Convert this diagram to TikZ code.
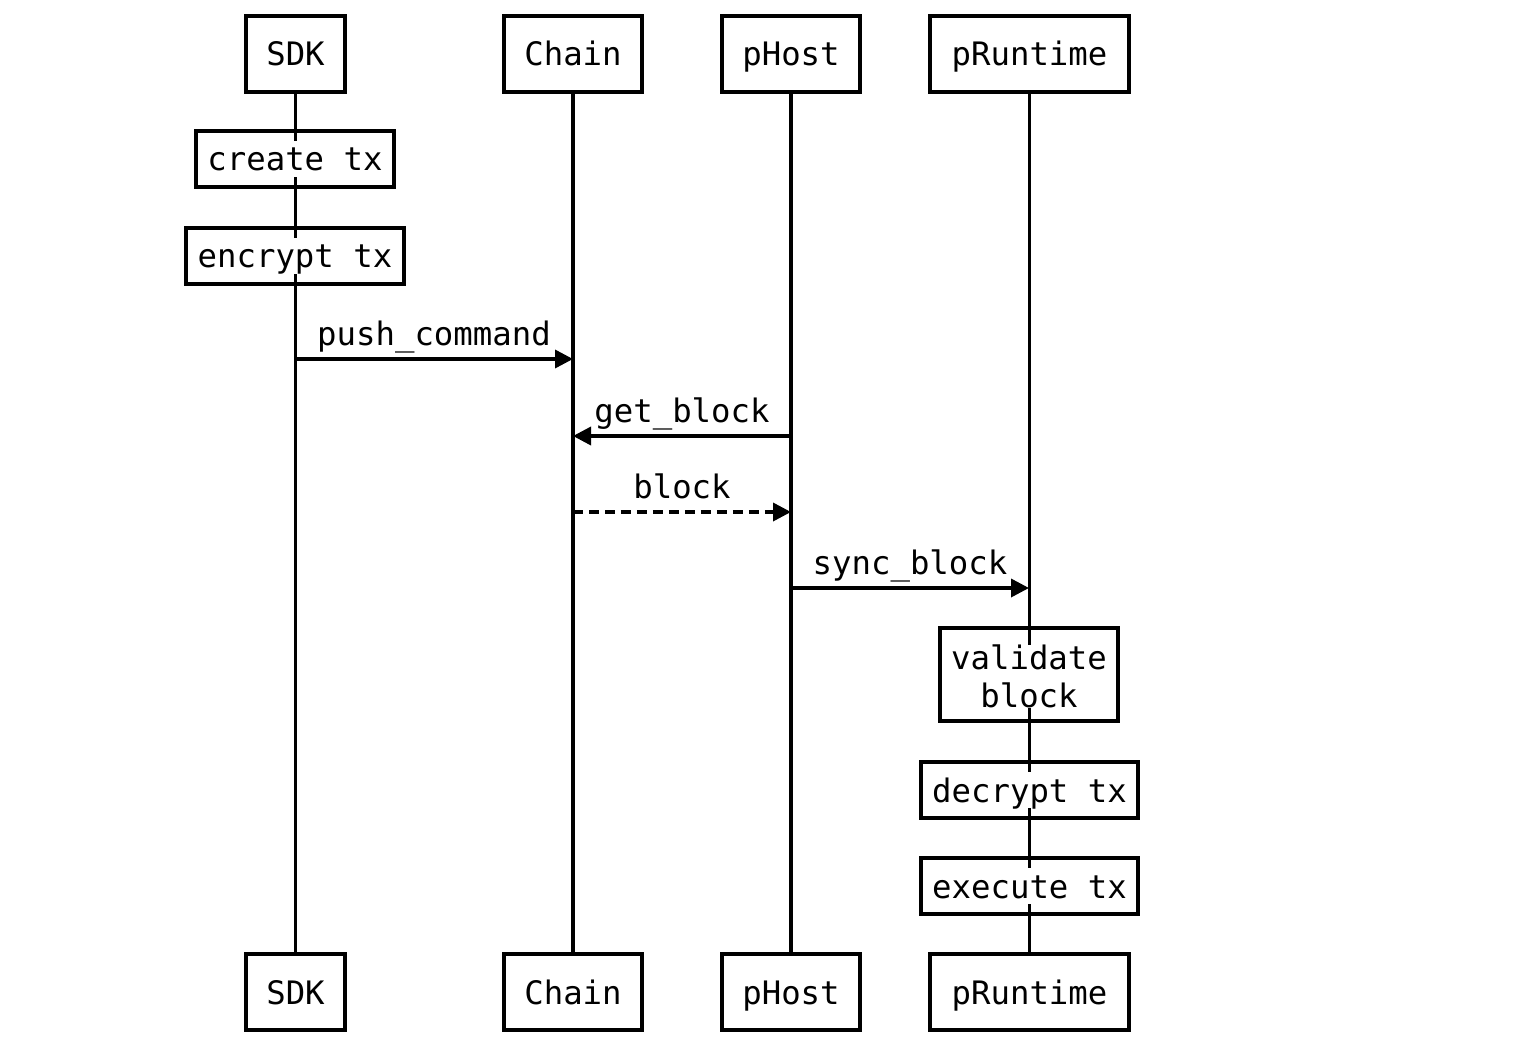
\documentclass[tikz,border=0pt]{standalone}
\usepackage{fontspec}
\setmonofont{DejaVu Sans Mono}
\usetikzlibrary{arrows.meta}
\pgfdeclarelayer{background}
\pgfsetlayers{background,main}
\tikzset{
  every node/.style={font=\ttfamily\fontsize{18.4}{21.6}\selectfont, text height=0.6cm, text depth=0.12cm},
  party/.style={draw, fill=white, line width=0.07cm, inner sep=0pt, minimum height=1.52cm},
  act/.style={draw, line width=0.07cm, inner sep=0pt, minimum height=1.12cm},
  lbl/.style={fill=white, inner sep=0pt},
  life/.style={line width=0.07cm},
  msg/.style={line width=0.07cm, -{Triangle[length=0.36cm,width=0.36cm]}},
}

\begin{document}
\begin{tikzpicture}[x=0.02cm, y=-0.02cm]
        \useasboundingbox (0,0) rectangle (1534,1044);
        % participants, top and bottom
        \node [party, minimum width=1.98cm] (sdkT) at (295.5,54) {SDK};
        \node [party, minimum width=2.76cm] (chainT) at (573,54) {Chain};
        \node [party, minimum width=2.76cm] (phostT) at (791,54) {pHost};
        \node [party, minimum width=3.98cm] (prtT) at (1029.5,54) {pRuntime};
        \node [party, minimum width=1.98cm] (sdkB) at (295.5,992) {SDK};
        \node [party, minimum width=2.76cm] (chainB) at (573,992) {Chain};
        \node [party, minimum width=2.76cm] (phostB) at (791,992) {pHost};
        \node [party, minimum width=3.98cm] (prtB) at (1029.5,992) {pRuntime};
        % lifelines
        \begin{pgfonlayer}{background}
          \draw [life] (sdkT) -- (sdkB);
          \draw [life] (chainT) -- (chainB);
          \draw [life] (phostT) -- (phostB);
          \draw [life] (prtT) -- (prtB);
        \end{pgfonlayer}
        % actions
        \node [act, minimum width=3.96cm, label={[lbl]center:create tx}] (create) at (295,159) {};
        \node [act, minimum width=4.36cm, label={[lbl]center:encrypt tx}] (encrypt) at (295,256) {};
        \node [act, minimum width=3.56cm, minimum height=1.86cm, label={[lbl, align=center, text height={}, text depth={}, yshift=-0.04cm]center:validate\\block}] (validate) at (1029,674.5) {};
        \node [act, minimum width=4.34cm, label={[lbl]center:decrypt tx}] (decrypt) at (1029.5,790) {};
        \node [act, minimum width=4.34cm, label={[lbl]center:execute tx}] (execute) at (1029.5,886) {};
        % messages
        \coordinate (sdk1) at (295,359);
        \coordinate (chain1) at (573,359);
        \coordinate (phost2) at (791,436);
        \coordinate (chain2) at (573,436);
        \coordinate (chain3) at (573,512);
        \coordinate (phost3) at (791,512);
        \coordinate (phost4) at (791,588);
        \coordinate (prt4) at (1029,588);
        \draw [msg] (sdk1) -- (chain1) node [midway, above] {push\_command};
        \draw [msg] (phost2) -- (chain2) node [midway, above] {get\_block};
        \draw [msg, dash pattern=on 0.2cm off 0.12cm] (chain3) -- (phost3) node [midway, above] {block};
        \draw [msg] (phost4) -- (prt4) node [midway, above] {sync\_block};
      \end{tikzpicture}
\end{document}
